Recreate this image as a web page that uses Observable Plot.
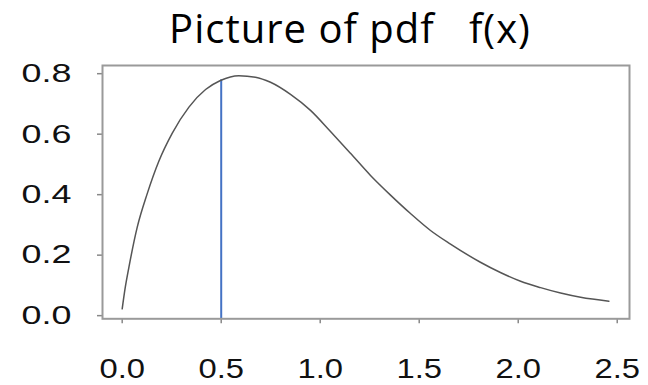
<!DOCTYPE html>
<html>
<head>
<meta charset="utf-8">
<script src="https://cdn.jsdelivr.net/npm/d3@7"></script>
<script src="https://cdn.jsdelivr.net/npm/@observablehq/plot@0.6"></script>
<style>
  body { margin: 0; background: #fff; width: 648px; height: 385px; overflow: hidden; }
  #title { position: relative; width: 648px; height: 55px; }
  #title span { position: absolute; left: 0; width: 648px; padding-left: 52px; box-sizing: border-box;
    top: 0; text-align: center; white-space: pre; font-family: "Open Sans", sans-serif;
    font-size: 40px; line-height: normal; letter-spacing: 1px; color: #000; }
</style>
</head>
<body>
<div id="title"><span>Picture of pdf   f(x)</span></div>
<div id="chart"></div>
<script>
// values
const xValues = [0, 0.015, 0.034, 0.076, 0.126, 0.185, 0.253, 0.337, 0.421, 0.496, 0.589, 0.673, 0.749, 0.850, 0.951, 1.052, 1.153, 1.254, 1.355, 1.456, 1.557, 1.658, 1.809, 1.910, 2.012, 2.113, 2.214, 2.315, 2.458];
const fValues = [0.011, 0.080, 0.149, 0.281, 0.391, 0.499, 0.592, 0.678, 0.736, 0.766, 0.782, 0.777, 0.760, 0.720, 0.667, 0.597, 0.525, 0.452, 0.387, 0.326, 0.270, 0.225, 0.165, 0.131, 0.102, 0.081, 0.063, 0.049, 0.036];
const markerX = [0.5];
const markerTop = [0.768];
const xTicks = [0, 0.5, 1.0, 1.5, 2.0, 2.5];
const yTicks = [0, 0.2, 0.4, 0.6, 0.8];

const data = xValues.map((x, i) => ({x, y: fValues[i]}));
const yMin = -0.022;
const rules = markerX.map((x, i) => ({x, top: markerTop[i]}));

const chart = Plot.plot({
  width: 648,
  height: 330,
  marginTop: 10,
  marginBottom: 66.7,
  marginLeft: 102,
  marginRight: 19,
  x: {domain: [-0.0995, 2.562]},
  y: {domain: [yMin, 0.8155]},
  style: {fontFamily: "'Liberation Sans', Arial, sans-serif", background: "#fff", color: "#111"},
  marks: [
    Plot.axisX(xTicks, {tickSize: 5, tickPadding: 34.7, fontSize: 28, tickFormat: d3.format(".1f"), stroke: "#888", strokeWidth: 1.5, label: null}),
    Plot.axisY(yTicks, {tickSize: 5, tickPadding: 26, fontSize: 26, dy: 3.5, tickFormat: d3.format(".1f"), stroke: "#888", strokeWidth: 1.5, label: null}),
    Plot.ruleX(rules, {x: "x", y1: yMin, y2: "top", stroke: "#4472C4", strokeWidth: 2}),
    Plot.line(data, {x: "x", y: "y", curve: "monotone-x", stroke: "#555", strokeWidth: 1.5}),
    Plot.frame({stroke: "#9a9a9a", strokeWidth: 2})
  ]
});
document.getElementById("chart").appendChild(chart);

// horizontally stretch tick labels like the reference
d3.select(chart).selectAll("g[aria-label='x-axis tick label'] text").each(function() {
  const L = this.getComputedTextLength();
  this.setAttribute("textLength", L * 1.17);
  this.setAttribute("lengthAdjust", "spacingAndGlyphs");
});
d3.select(chart).selectAll("g[aria-label='y-axis tick label'] text").each(function() {
  const L = this.getComputedTextLength();
  this.setAttribute("textLength", L * 1.38);
  this.setAttribute("lengthAdjust", "spacingAndGlyphs");
});
</script>
</body>
</html>
